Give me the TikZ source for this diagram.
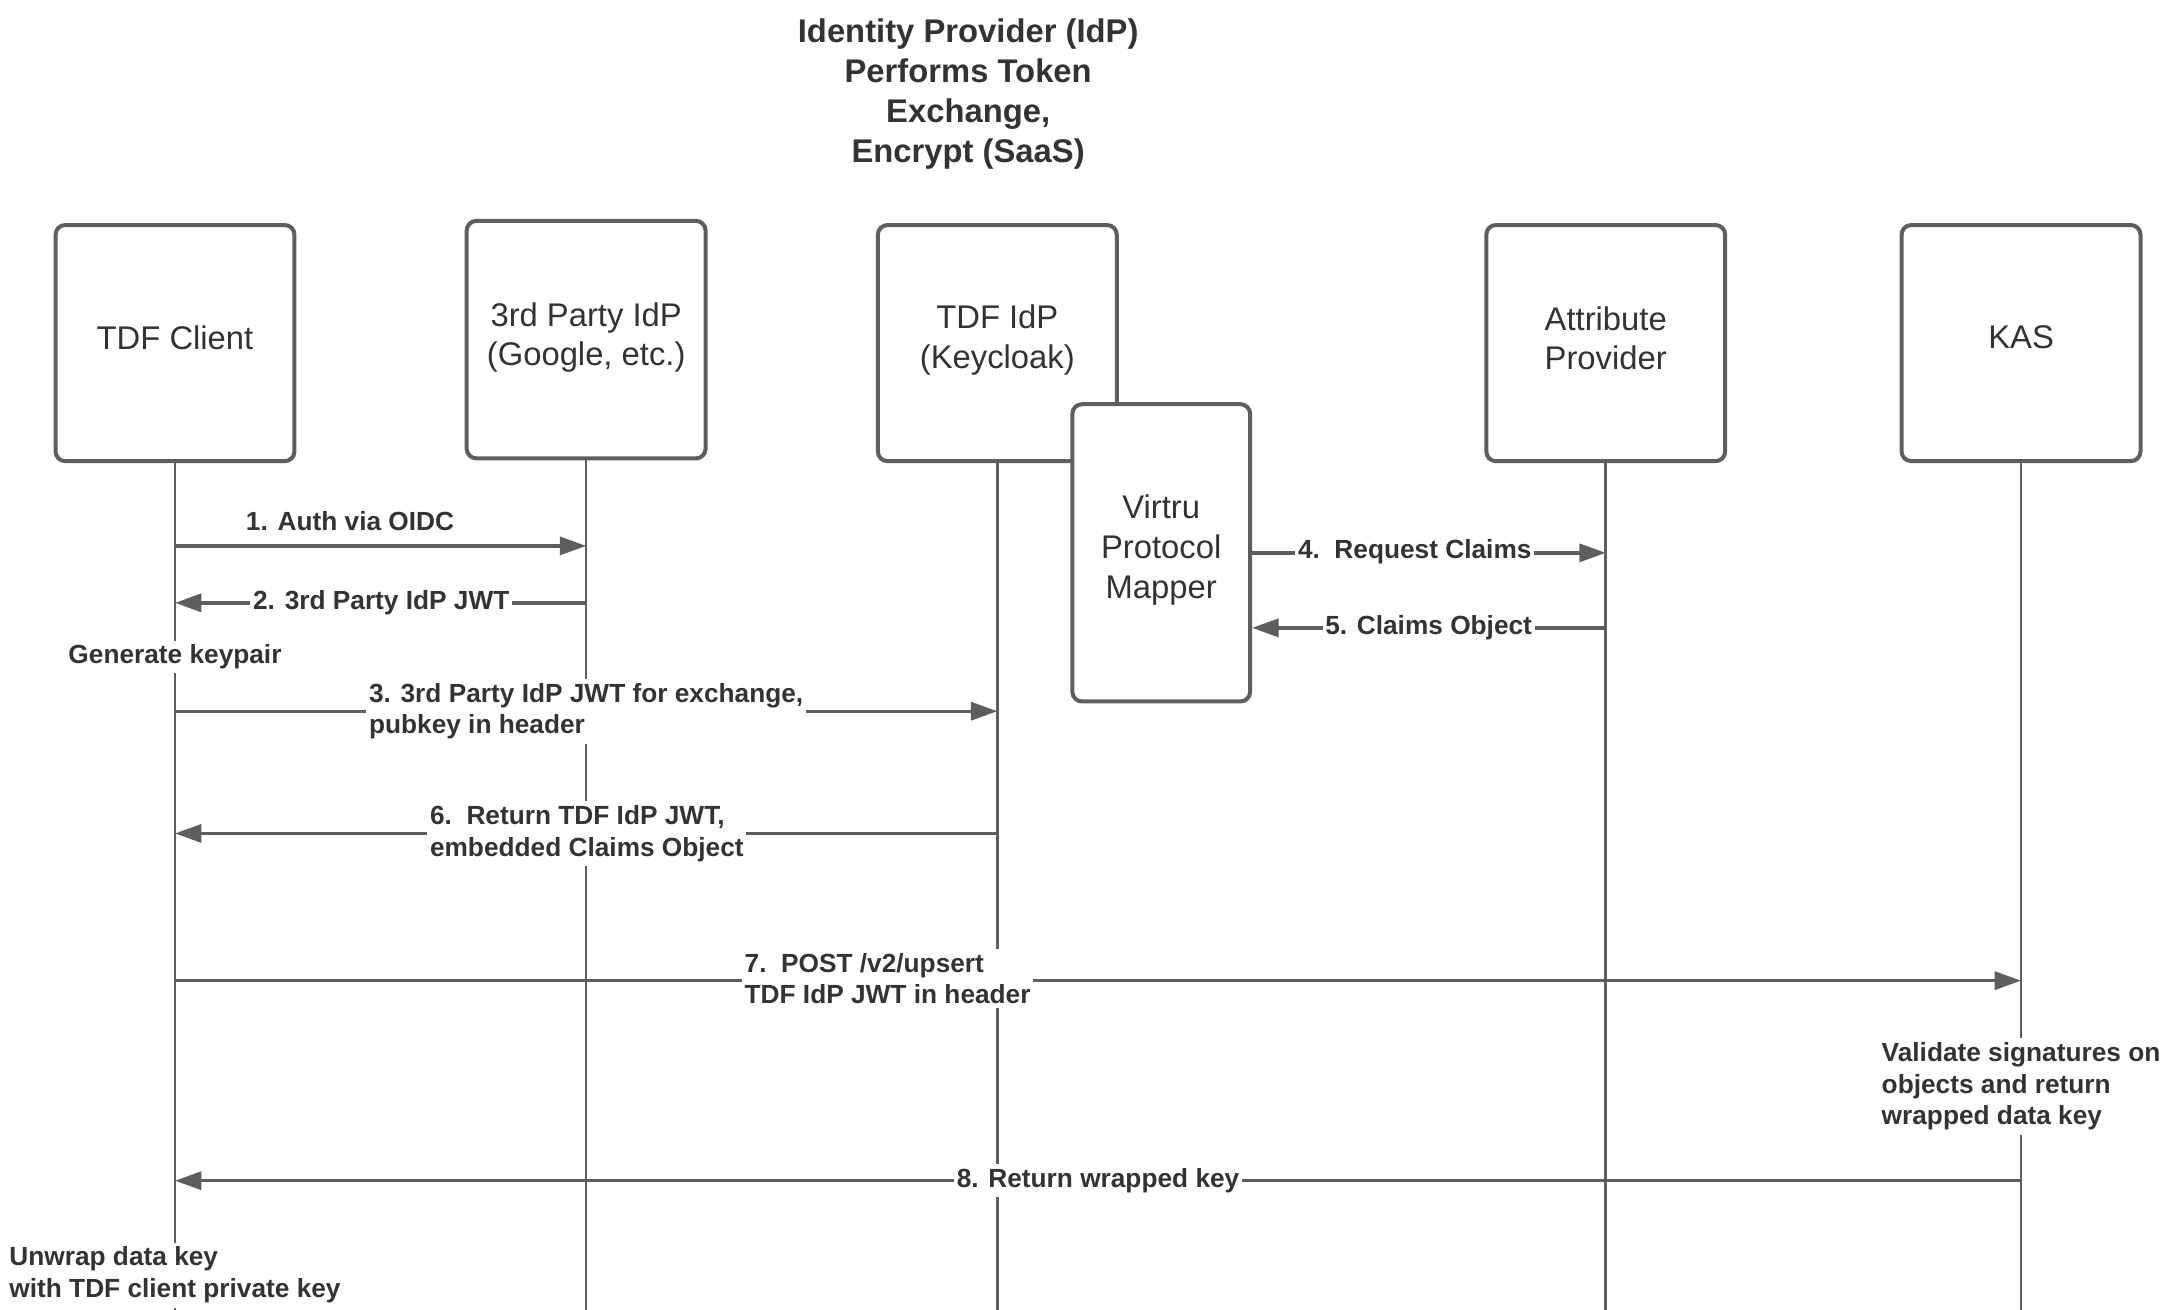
\documentclass[tikz,border=0pt]{standalone}
\usepackage{fontspec}
\setmainfont{Liberation Sans}
\usetikzlibrary{arrows.meta}
\definecolor{lncol}{HTML}{5E5E5E}
\definecolor{txcol}{HTML}{333333}
\tikzset{
  lifebox/.style={draw=lncol, line width=1.45pt, rounded corners=3.5pt, fill=white,
    minimum width=86pt, minimum height=85pt, inner sep=0pt},
  boxtext/.style={text=txcol, font=\fontsize{11.8pt}{14.35pt}\selectfont, align=center, inner sep=0pt},
  lifeline/.style={draw=lncol, line width=0.95pt},
  msg/.style={draw=lncol, line width=1.2pt, -{Triangle[length=9.5pt,width=6.5pt]}},
  msglabel/.style={text=txcol, font=\bfseries\fontsize{9.45pt}{11.5pt}\selectfont, align=left,
    inner xsep=1pt, inner ysep=1.5pt},
  masked/.style={fill=white},
  titletext/.style={text=txcol, font=\bfseries\fontsize{11.8pt}{14.35pt}\selectfont, align=center, inner sep=0pt}
}
\begin{document}
\begin{tikzpicture}[x=0.5pt,y=-0.5pt]
\useasboundingbox (0,0) rectangle (1568,943);

% title
\node[titletext] (title) at (697,67.5) {Identity Provider (IdP)\\Performs Token\\Exchange,\\Encrypt (SaaS)};

% participant boxes
\node[lifebox] (c) at (126,247) {};
\node[lifebox, minimum height=85.5pt] (p) at (422,244.5) {};
\node[lifebox] (t) at (718,247) {};
\node[lifebox] (a) at (1156,247) {};
\node[lifebox] (k) at (1455,247) {};

% lifelines
\draw[lifeline] (c.south) -- (c.south |- 0,943);
\draw[lifeline] (p.south) -- (p.south |- 0,943);
\draw[lifeline] (t.south) -- (t.south |- 0,943);
\draw[lifeline] (a.south) -- (a.south |- 0,943);
\draw[lifeline] (k.south) -- (k.south |- 0,943);

% mapper box on top of TDF IdP box
\node[lifebox, minimum width=64pt, minimum height=107pt] (m) at (836,398) {};

% box texts
\node[boxtext] (ct) at (126,243) {TDF Client};
\node[boxtext] (pt) at (422,243) {3rd Party IdP\\(Google, etc.)};
\node[boxtext] (tt) at (718,245) {TDF IdP\\(Keycloak)};
\node[boxtext] (at) at (1156,243.5) {Attribute\\Provider};
\node[boxtext] (kt) at (1455,243) {KAS};
\node[boxtext] (mt) at (836,396) {Virtru\\Protocol\\Mapper};

% messages
\draw[msg] (c.south |- 0,393) -- (p.south |- 0,393);
\draw[msg] (p.south |- 0,434) -- (c.south |- 0,434);
\draw[msg] (c.south |- 0,512) -- (t.south |- 0,512);
\draw[msg] (m.east |- 0,398) -- (a.south |- 0,398);
\draw[msg] (a.south |- 0,452) -- (m.east |- 0,452);
\draw[msg] (t.south |- 0,600) -- (c.south |- 0,600);
\draw[msg] (c.south |- 0,706) -- (k.south |- 0,706);
\draw[msg] (k.south |- 0,850) -- (c.south |- 0,850);

% message labels
\node[msglabel] (l1) at (252,375) {1. Auth via OIDC};
\node[msglabel, masked] (l2) at (274.5,434) {2. 3rd Party IdP JWT};
\node[msglabel, masked] (gen) at (126,473) {Generate keypair};
\node[msglabel, masked] (l3) at (422,512) {3. 3rd Party IdP JWT for exchange,\\pubkey in header};
\node[msglabel, masked] (l4) at (1018.5,397) {4.\ \ Request Claims};
\node[msglabel, masked] (l5) at (1028.5,452) {5. Claims Object};
\node[msglabel, masked] (l6) at (422.5,600) {6.\ \ Return TDF IdP JWT,\\embedded Claims Object};
\node[msglabel, masked] (l7) at (639,704.5) {7.\ \ POST /v2/upsert\\TDF IdP JWT in header};
\node[msglabel, masked] (val) at (1455,782) {Validate signatures on\\objects and return\\wrapped data key};
\node[msglabel, masked] (l8) at (790.5,850) {8. Return wrapped key};
\node[msglabel, masked] (unw) at (126,918) {Unwrap data key\\with TDF client private key};
\end{tikzpicture}
\end{document}
